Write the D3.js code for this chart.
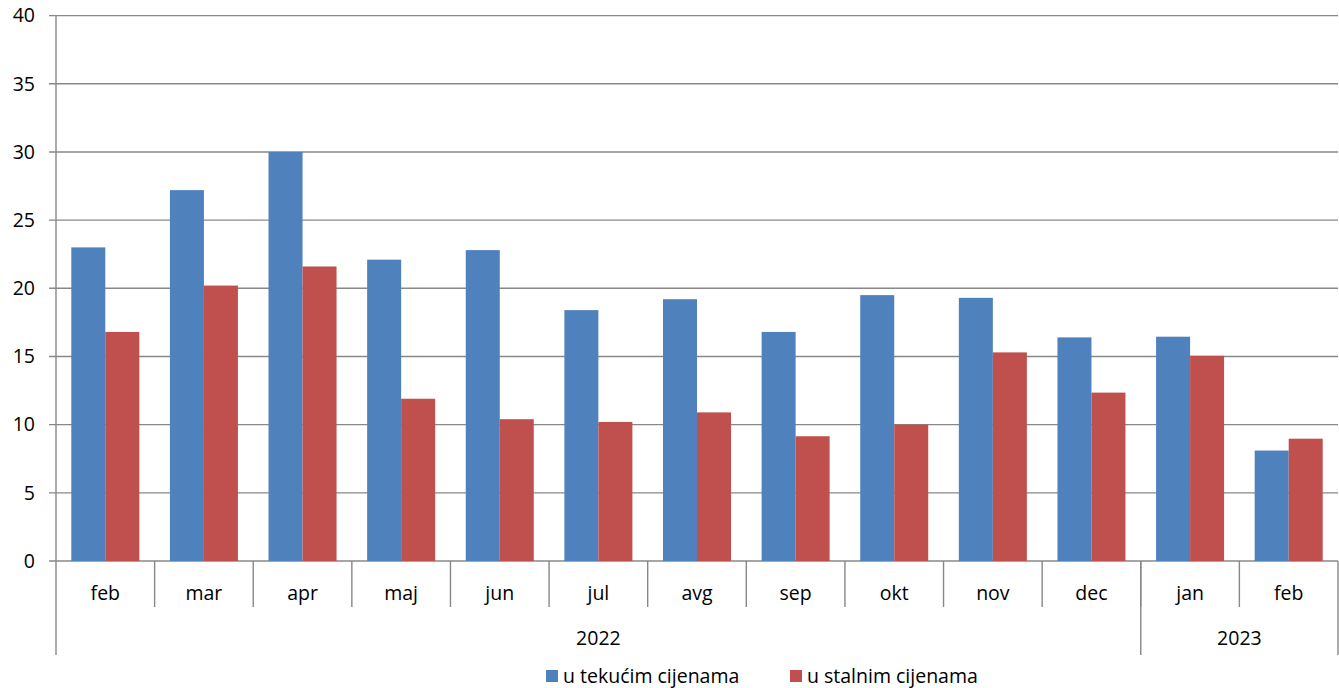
<!DOCTYPE html>
<html>
<head>
<meta charset="utf-8">
<script src="https://cdn.jsdelivr.net/npm/d3@7"></script>
<style>
	body { margin: 0; background: #fff; }
	text { font-family: "Open Sans", Lato, sans-serif; fill: #000; }
</style>
</head>
<body>
<svg id="chart" width="1339" height="688"></svg>
<script>
var months = ["feb", "mar", "apr", "maj", "jun", "jul", "avg", "sep", "okt", "nov", "dec", "jan", "feb"];
var years = [{label: "2022", from: 0, to: 11}, {label: "2023", from: 11, to: 13}];
var seriesNames = ["u tekućim cijenama", "u stalnim cijenama"];
var tekuce = [23.0, 27.2, 30.0, 22.1, 22.8, 18.4, 19.2, 16.8, 19.5, 19.3, 16.4, 16.45, 8.1];
var stalne = [16.8, 20.2, 21.6, 11.9, 10.4, 10.2, 10.9, 9.15, 10.0, 15.3, 12.35, 15.05, 8.97];
var yTicks = [0, 5, 10, 15, 20, 25, 30, 35, 40];
var colours = ["#4F81BD", "#C0504D"];

var svg = d3.select("#chart");
var plotLeft = 56, plotRight = 1338, plotTop = 15.6, plotBottom = 561;
var fontSize = "19.5px";

var ids = months.map(function(m, i) {return i;});
var x = d3.scaleBand().domain(ids).range([plotLeft, plotRight]);
var step = x.step(),
	barW = step / 2.9;
var x1 = d3.scaleBand().domain([0, 1])
	.range([barW * 0.45, step - barW * 0.45]);
var y = d3.scaleLinear().domain([0, 40]).range([plotBottom, plotTop]);

//gridlines
svg.append("g").selectAll("line")
	.data(yTicks).enter()
	.append("line")
		.attr("x1", plotLeft - 7).attr("x2", plotRight)
		.attr("y1", function(d) {return y(d);})
		.attr("y2", function(d) {return y(d);})
		.attr("stroke", "#888").attr("stroke-width", 1.4);

svg.append("g").selectAll("text")
	.data(yTicks).enter()
	.append("text")
		.attr("x", 35)
		.attr("y", function(d) {return y(d);})
		.attr("dy", "0.35em")
		.attr("text-anchor", "end")
		.style("font-size", fontSize)
		.text(function(d) {return d;});

//bars
var data = [];
ids.forEach(function(i){
	data.push([i, 0, tekuce[i]]);
	data.push([i, 1, stalne[i]]);
});
svg.append("g").selectAll("rect")
	.data(data).enter()
	.append("rect")
		.attr("x", function(d) {return x(d[0]) + x1(d[1]);})
		.attr("width", x1.bandwidth())
		.attr("y", function(d) {return y(d[2]);})
		.attr("height", function(d) {return y(0) - y(d[2]);})
		.attr("fill", function(d) {return colours[d[1]];});

//category axis
var ax = svg.append("g").attr("stroke", "#888").attr("stroke-width", 1.4);
ax.append("line")
	.attr("x1", plotLeft).attr("x2", plotLeft)
	.attr("y1", plotTop).attr("y2", 655);
ids.forEach(function(i){
	if(i == 0) return;
	ax.append("line")
		.attr("x1", x(i)).attr("x2", x(i))
		.attr("y1", plotBottom).attr("y2", 607);
});
years.forEach(function(yr){
	var xe = yr.to < months.length ? x(yr.to) : plotRight;
	ax.append("line")
		.attr("x1", xe).attr("x2", xe)
		.attr("y1", plotBottom).attr("y2", 655);
});

svg.append("g").selectAll("text")
	.data(ids).enter()
	.append("text")
		.attr("x", function(d) {return x(d) + step / 2;})
		.attr("y", 593)
		.attr("dy", "0.35em")
		.attr("text-anchor", "middle")
		.style("font-size", fontSize)
		.text(function(d) {return months[d];});

svg.append("g").selectAll("text")
	.data(years).enter()
	.append("text")
		.attr("x", function(d) {
			var xe = d.to < months.length ? x(d.to) : plotRight;
			return (x(d.from) + xe) / 2;
		})
		.attr("y", 638)
		.attr("dy", "0.35em")
		.attr("text-anchor", "middle")
		.style("font-size", fontSize)
		.text(function(d) {return d.label;});

//legend
var legX = [546, 790];
var leg = svg.append("g").selectAll("g")
	.data(seriesNames).enter()
	.append("g")
		.attr("transform", function(d, i) {return "translate(" + legX[i] + ",676)";});
leg.append("rect")
	.attr("x", 0).attr("y", -6)
	.attr("width", 12).attr("height", 12)
	.attr("fill", function(d, i) {return colours[i];});
leg.append("text")
	.attr("x", 17)
	.attr("dy", "0.35em")
	.style("font-size", fontSize)
	.text(function(d) {return d;});
</script>
</body>
</html>
